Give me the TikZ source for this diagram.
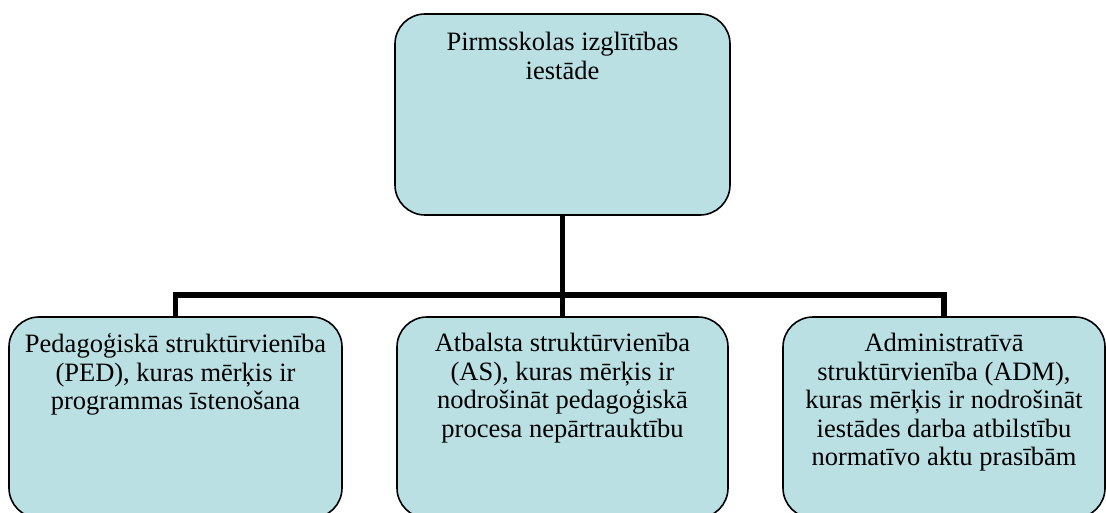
\documentclass[tikz,border=0pt]{standalone}
\usepackage{fontspec}
\setmainfont{Liberation Serif}
\usetikzlibrary{positioning}
\definecolor{boxblue}{RGB}{186,224,228}

\begin{document}
\begin{tikzpicture}[x=1pt,y=-1pt,
  unit/.style={draw=black,line width=1.6pt,fill=boxblue,rounded corners=30pt,inner sep=0pt},
  txt/.style={align=center,inner sep=0pt,font=\fontsize{26.5}{28.5}\selectfont},
  link/.style={line width=5.5pt}]

\useasboundingbox (0,0) rectangle (1106,513);

\node[unit,minimum width=335pt,minimum height=201pt] (PII) at (562.5,114.5) {};
\node[unit,minimum width=333pt,minimum height=201pt] (PED) at (175.5,417.5) {};
\node[unit,minimum width=331pt,minimum height=201pt] (AS) at (562.5,417.5) {};
\node[unit,minimum width=322pt,minimum height=201pt] (ADM) at (944,417.5) {};

\node[txt,below=19pt of PII.north] (tPII) {Pirmsskolas izglītības\\iestāde};
\node[txt,below=17pt of PED.north] (tPED) {Pedagoģiskā struktūrvienība\\(PED), kuras mērķis ir\\programmas īstenošana};
\node[txt,below=17pt of AS.north] (tAS) {Atbalsta struktūrvienība\\(AS), kuras mērķis ir\\nodrošināt pedagoģiskā\\procesa nepārtrauktību};
\node[txt,below=17pt of ADM.north] (tADM) {Administratīvā\\struktūrvienība (ADM),\\kuras mērķis ir nodrošināt\\iestādes darba atbilstību\\normatīvo aktu prasībām};

\coordinate (J) at (562.5,295);
\draw[link] (PII.south) -- (J);
\draw[link] (PED.north) |- (J) -| (ADM.north);
\draw[link] (J) -- (AS.north);
\end{tikzpicture}
\end{document}
